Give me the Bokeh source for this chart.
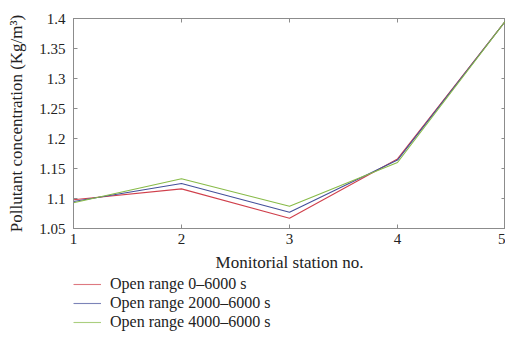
from bokeh.plotting import figure
from bokeh.models import LinearAxis, FixedTicker, Legend, LegendItem, Range1d
from bokeh.layouts import column
from bokeh.embed import file_html
from bokeh.resources import INLINE

stations = [1, 2, 3, 4, 5]
series_names = ["Open range 0\u20136000 s", "Open range 2000\u20136000 s", "Open range 4000\u20136000 s"]
red_vals = [1.098, 1.116, 1.067, 1.166, 1.396]
blue_vals = [1.095, 1.125, 1.077, 1.164, 1.396]
green_vals = [1.093, 1.133, 1.087, 1.160, 1.396]
colors = ["#d0404c", "#44509a", "#88bb48"]
y_ticks = [1.05, 1.1, 1.15, 1.2, 1.25, 1.3, 1.35, 1.4]
y_tick_labels = ["1.05", "1.1", "1.15", "1.2", "1.25", "1.3", "1.35", "1.4"]
x_ticks = [1, 2, 3, 4, 5]

FONT = "Liberation Serif"
GREY = "#8c8c8c"

p = figure(width=505, height=275, output_backend="svg", toolbar_location=None,
           x_range=Range1d(1, 5), y_range=Range1d(1.05, 1.4),
           min_border_left=73, min_border_right=0, min_border_top=18, min_border_bottom=47)
p.xgrid.visible = False
p.ygrid.visible = False
p.outline_line_color = GREY
p.background_fill_color = "white"
p.border_fill_color = "white"

series = [red_vals, blue_vals, green_vals]
for vals, c in zip(series, colors):
    p.line(stations, vals, line_color=c, line_width=1.1)

for ax in p.xaxis + p.yaxis:
    ax.axis_line_color = GREY
    ax.major_tick_line_color = GREY
    ax.major_tick_in = 4
    ax.major_tick_out = 0
    ax.minor_tick_line_color = None
    ax.major_label_text_font = FONT
    ax.major_label_text_font_size = "15px"
    ax.major_label_text_color = "#222222"
    ax.axis_label_text_font = FONT
    ax.axis_label_text_font_size = "17px"
    ax.axis_label_text_font_style = "normal"
    ax.axis_label_text_color = "#222222"

p.xaxis.ticker = FixedTicker(ticks=x_ticks)
p.yaxis.ticker = FixedTicker(ticks=y_ticks)
p.yaxis.major_label_overrides = {t: l for t, l in zip(y_ticks, y_tick_labels)}
p.xaxis.axis_label = "Monitorial station no."
p.yaxis.axis_label = "Pollutant concentration (Kg/m\u00b3)"
p.xaxis.major_label_standoff = 5
p.yaxis.major_label_standoff = 8
p.xaxis.axis_label_standoff = 6
p.yaxis.axis_label_standoff = 10

top = LinearAxis(ticker=FixedTicker(ticks=x_ticks), major_label_overrides={t: "" for t in x_ticks},
                 axis_line_color=GREY, major_tick_line_color=GREY, major_tick_in=4, major_tick_out=0,
                 minor_tick_line_color=None, major_label_standoff=0)
right = LinearAxis(ticker=FixedTicker(ticks=y_ticks), major_label_overrides={t: "" for t in y_ticks},
                   axis_line_color=GREY, major_tick_line_color=GREY, major_tick_in=4, major_tick_out=0,
                   minor_tick_line_color=None, major_label_standoff=0)
p.add_layout(top, "above")
p.add_layout(right, "right")

# legend panel below the chart (its lines lie outside its ranges, only the legend shows)
lg = figure(width=505, height=76, output_backend="svg", toolbar_location=None,
            x_range=Range1d(0, 0.5), y_range=Range1d(0, 0.5),
            min_border_left=73, min_border_right=0, min_border_top=0, min_border_bottom=0)
lg.axis.visible = False
lg.xgrid.visible = False
lg.ygrid.visible = False
lg.outline_line_color = None
lg_renderers = [lg.line(stations, vals, line_color=c, line_width=1.1, line_alpha=0.7)
                for vals, c in zip(series, colors)]
legend = Legend(items=[LegendItem(label=n, renderers=[r]) for n, r in zip(series_names, lg_renderers)],
                location="top_left", background_fill_alpha=0, border_line_color=None,
                label_text_font=FONT, label_text_font_size="16px", label_text_color="#222222",
                glyph_width=28, glyph_height=12, label_height=12, spacing=1, padding=0, margin=0,
                label_standoff=9)
lg.add_layout(legend, "center")

layout = column(p, lg, spacing=0)
open("out.html", "w").write(file_html(layout, INLINE))
